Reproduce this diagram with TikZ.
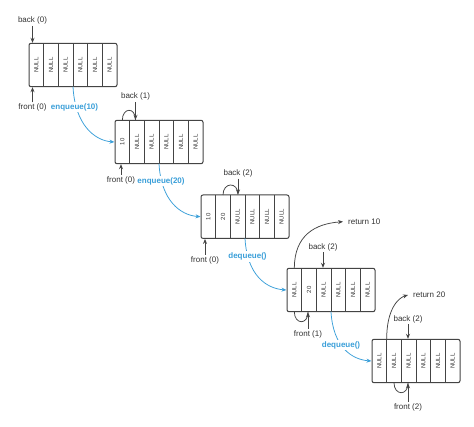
\documentclass[tikz,border=0pt]{standalone}
\usepackage{fontspec}
\setmainfont{Liberation Sans}
\usetikzlibrary{arrows.meta,fit}
\definecolor{ink}{HTML}{444444}
\definecolor{txt}{HTML}{333333}
\definecolor{qblue}{HTML}{3A9FD9}
\tikzset{
 qcell/.style={minimum width=14.667pt,minimum height=43.4pt,inner sep=0pt,outer sep=0pt,font=\fontsize{6}{7}\selectfont,text=txt},
 qframe/.style={draw=ink,line width=1pt,rounded corners=2pt,inner sep=0pt},
 qsep/.style={draw=ink,line width=1pt},
 lbl/.style={font=\fontsize{8}{9}\selectfont,text=txt,inner sep=1.5pt},
 retlbl/.style={font=\fontsize{8}{9}\selectfont,text=txt,inner ysep=1.5pt,inner xsep=5pt,anchor=west},
 oplbl/.style={font=\bfseries\fontsize{8}{9}\selectfont,text=qblue,fill=white,inner sep=1.5pt},
 ptr/.style={draw=ink,line width=0.75pt,-{Stealth[length=5pt,width=4pt]}},
 loopln/.style={draw=ink,line width=0.75pt},
 opln/.style={draw=qblue,line width=0.75pt,-{Stealth[length=5pt,width=4pt]}},
}
\newcommand\qarray[4]{%
  \foreach \c [count=\i] in {#4} {
    \node[qcell] (#1-\i) at ({#2+14.667*(\i-0.5)},{#3+21.7}) {\rotatebox{90}{\c}};
  }
  \node[qframe, fit=(#1-1)(#1-6)] (#1) {};
  \foreach \i in {1,...,5} \draw[qsep] (#1-\i.north east) -- (#1-\i.south east);
}
\begin{document}
\begin{tikzpicture}[x=1pt,y=-1pt]
\useasboundingbox[fill=white] (0,0) rectangle (474,427);

% arrays
\qarray{a1}{29}{43.3}{NULL,NULL,NULL,NULL,NULL,NULL}
\qarray{a2}{115}{120.3}{10,NULL,NULL,NULL,NULL,NULL}
\qarray{a3}{201}{195}{10,20,NULL,NULL,NULL,NULL}
\qarray{a4}{287}{268.3}{NULL,20,NULL,NULL,NULL,NULL}
\qarray{a5}{372}{339.3}{NULL,NULL,NULL,NULL,NULL,NULL}

% operation curves
\draw[opln] (a1-3.south east) .. controls +(2,38) and +(-20,-1.5) .. (a2.west);
\draw[opln] (a2-3.south east) .. controls +(2,37) and +(-20,-1.5) .. (a3.west);
\draw[opln] (a3-3.south east) .. controls +(2,37) and +(-20,-1.5) .. (a4.west);
\draw[opln] (a4-3.south east) .. controls +(2,35) and +(-20,-1.5) .. (a5.west);
\node[oplbl] (op1) at (74.5,107) {enqueue(10)};
\node[oplbl] (op2) at (161,181) {enqueue(20)};
\node[oplbl] (op3) at (247.5,256.7) {dequeue()};
\node[oplbl] (op4) at (341,345) {dequeue()};

% array 1 pointers
\node[lbl] (b1) at (32.5,20.5) {back (0)};
\draw[ptr] (b1) -- (b1 |- a1.north);
\node[lbl] (f1) at (32.5,107.7) {front (0)};
\draw[ptr] (f1) -- (f1 |- a1.south);

% array 2 pointers
\node[lbl] (b2) at (135.5,96.7) {back (1)};
\draw[ptr] (b2) -- (b2 |- a2.north);
\draw[loopln] (a2-1.north) .. controls +(0,-13) and +(0,-13) .. (b2 |- a2.north);
\node[lbl] (f2) at (121,180.5) {front (0)};
\draw[ptr] (f2) -- (f2 |- a2.south);

% array 3 pointers
\node[lbl] (b3) at (238,173.3) {back (2)};
\draw[ptr] (b3) -- (b3 |- a3.north);
\draw[loopln] (a3-2.north) .. controls +(0,-13) and +(0,-13) .. (b3 |- a3.north);
\node[lbl] (f3) at (205,260) {front (0)};
\draw[ptr] (f3) -- (f3 |- a3.south);

% array 4 pointers
\node[lbl] (b4) at (323,247) {back (2)};
\draw[ptr] (b4) -- (b4 |- a4.north);
\node[lbl] (f4) at (308,334) {front (1)};
\draw[ptr] (f4) -- (f4 |- a4.south);
\draw[loopln] (a4-1.south) .. controls +(0,13) and +(0,13) .. (f4 |- a4.south);
\node[retlbl] (r4) at (343,221.7) {return 10};
\draw[ptr] (a4-1.north) .. controls +(0,-33) and +(-28,2) .. (r4.west);

% array 5 pointers
\node[lbl] (b5) at (408,319) {back (2)};
\draw[ptr] (b5) -- (b5 |- a5.north);
\node[lbl] (f5) at (408,407) {front (2)};
\draw[ptr] (f5) -- (f5 |- a5.south);
\draw[loopln] (a5-2.south) .. controls +(0,13) and +(0,13) .. (f5 |- a5.south);
\node[retlbl] (r5) at (408,295) {return 20};
\draw[ptr] (a5-1.north east) .. controls +(0,-30) and +(-10,3) .. (r5.west);
\end{tikzpicture}
\end{document}
